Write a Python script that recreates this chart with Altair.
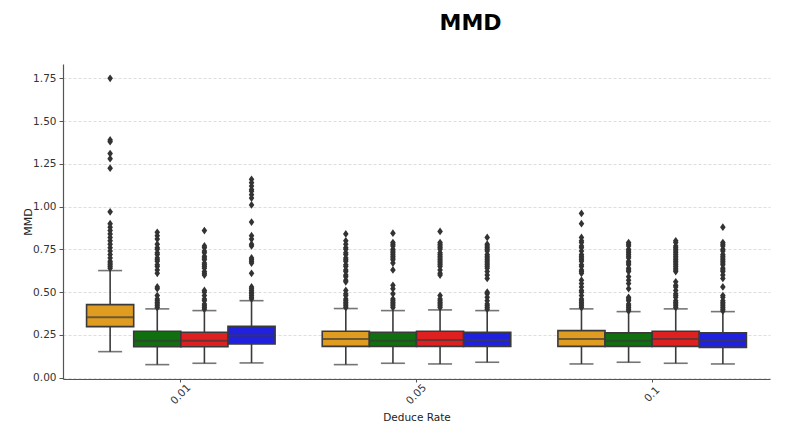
import altair as alt
import pandas as pd

rates = ["0.01", "0.05", "0.1"]
hues = ["A", "B", "C", "D"]
colors = ["#df9c20", "#107010", "#df2020", "#2020df"]

# box statistics, order: rate x hue
q1 = [0.298, 0.181, 0.181, 0.197,
      0.183, 0.183, 0.183, 0.183,
      0.183, 0.183, 0.183, 0.177]
med = [0.353, 0.216, 0.216, 0.246,
       0.226, 0.216, 0.220, 0.220,
       0.226, 0.216, 0.226, 0.216]
q3 = [0.427, 0.271, 0.265, 0.300,
      0.271, 0.265, 0.271, 0.265,
      0.275, 0.262, 0.271, 0.262]
lo = [0.152, 0.076, 0.084, 0.086,
      0.076, 0.084, 0.080, 0.090,
      0.080, 0.090, 0.084, 0.080]
hi = [0.626, 0.402, 0.392, 0.450,
      0.404, 0.392, 0.396, 0.392,
      0.402, 0.386, 0.402, 0.386]

outliers = [
    [1.75, 1.39, 1.38, 1.31, 1.28, 1.225, 0.97, 0.90, 0.88, 0.86, 0.84, 0.82, 0.80, 0.78, 0.76, 0.74, 0.72, 0.70, 0.68, 0.67, 0.66, 0.65, 0.64],
    [0.85, 0.83, 0.81, 0.78, 0.76, 0.75, 0.73, 0.72, 0.70, 0.69, 0.68, 0.66, 0.65, 0.63, 0.61, 0.53, 0.52, 0.48, 0.46, 0.45, 0.44, 0.43, 0.42, 0.41],
    [0.86, 0.77, 0.76, 0.74, 0.73, 0.71, 0.70, 0.69, 0.67, 0.66, 0.65, 0.64, 0.62, 0.61, 0.60, 0.51, 0.50, 0.48, 0.46, 0.45, 0.43, 0.42, 0.41, 0.40],
    [1.16, 1.14, 1.12, 1.10, 1.09, 1.07, 1.05, 1.01, 0.91, 0.83, 0.81, 0.78, 0.77, 0.70, 0.69, 0.68, 0.67, 0.61, 0.53, 0.52, 0.51, 0.50, 0.49, 0.48, 0.47, 0.46],
    [0.84, 0.80, 0.78, 0.76, 0.75, 0.73, 0.72, 0.70, 0.69, 0.68, 0.66, 0.65, 0.63, 0.62, 0.60, 0.59, 0.57, 0.56, 0.51, 0.49, 0.48, 0.46, 0.45, 0.44, 0.43, 0.42, 0.41],
    [0.845, 0.79, 0.78, 0.77, 0.75, 0.74, 0.73, 0.72, 0.71, 0.70, 0.69, 0.67, 0.63, 0.54, 0.52, 0.49, 0.46, 0.45, 0.44, 0.43, 0.42, 0.41],
    [0.855, 0.79, 0.78, 0.77, 0.76, 0.75, 0.73, 0.72, 0.71, 0.70, 0.69, 0.68, 0.67, 0.66, 0.65, 0.63, 0.61, 0.60, 0.48, 0.46, 0.45, 0.44, 0.43, 0.42, 0.41],
    [0.82, 0.78, 0.77, 0.76, 0.75, 0.74, 0.72, 0.71, 0.70, 0.69, 0.68, 0.67, 0.66, 0.65, 0.64, 0.62, 0.60, 0.58, 0.50, 0.49, 0.47, 0.45, 0.43, 0.42, 0.41, 0.40],
    [0.96, 0.90, 0.82, 0.80, 0.79, 0.77, 0.76, 0.74, 0.72, 0.71, 0.70, 0.69, 0.68, 0.66, 0.65, 0.63, 0.62, 0.61, 0.57, 0.55, 0.53, 0.51, 0.50, 0.48, 0.46, 0.45, 0.44, 0.43, 0.42, 0.41],
    [0.79, 0.78, 0.77, 0.75, 0.74, 0.73, 0.72, 0.71, 0.70, 0.68, 0.67, 0.66, 0.64, 0.63, 0.62, 0.59, 0.57, 0.55, 0.52, 0.47, 0.46, 0.45, 0.43, 0.42, 0.41, 0.40, 0.39],
    [0.80, 0.79, 0.77, 0.76, 0.75, 0.74, 0.73, 0.72, 0.71, 0.70, 0.69, 0.68, 0.67, 0.66, 0.65, 0.64, 0.63, 0.62, 0.56, 0.54, 0.53, 0.51, 0.49, 0.48, 0.47, 0.45, 0.44, 0.43, 0.42, 0.41],
    [0.88, 0.79, 0.78, 0.77, 0.75, 0.74, 0.72, 0.71, 0.70, 0.69, 0.68, 0.67, 0.66, 0.64, 0.63, 0.62, 0.60, 0.58, 0.53, 0.48, 0.47, 0.45, 0.44, 0.43, 0.42, 0.41, 0.40, 0.39],
]

rows, orows = [], []
i = 0
for r in rates:
    for h in hues:
        rows.append(dict(rate=r, hue=h, q1=q1[i], med=med[i], q3=q3[i], lo=lo[i], hi=hi[i]))
        for v in outliers[i]:
            orows.append(dict(rate=r, hue=h, value=v))
        i += 1
stats = pd.DataFrame(rows)
outs = pd.DataFrame(orows)

EDGE = "#3a3a3a"
FONT = "DejaVu Sans"

x = alt.X("rate:N", sort=rates, scale=alt.Scale(paddingInner=0, paddingOuter=0),
          axis=alt.Axis(title="Deduce Rate", labelAngle=-45, labelAlign="center",
                        labelBaseline="middle", labelPadding=12, tickSize=3,
                        tickColor="#555555", domainColor="#555555", domainWidth=1.2,
                        labelFontSize=10.5, titleFontSize=10.5, titleFontWeight="normal",
                        labelColor="#333333", titleColor="#222222",
                        titleY=41, titleBaseline="alphabetic", grid=False))
xo = alt.XOffset("hue:N", sort=hues, scale=alt.Scale(paddingInner=0, paddingOuter=0.5))
yscale = alt.Scale(domain=[-0.008, 1.834], nice=False, zero=False)
yaxis = alt.Axis(title="MMD", values=[0, 0.25, 0.5, 0.75, 1.0, 1.25, 1.5, 1.75], format=".2f",
                 grid=True, gridDash=[3, 2], gridColor="#d4d4d4", gridWidth=0.8,
                 tickSize=4, tickColor="#555555", domainColor="#555555", domainWidth=1.2,
                 labelFontSize=10.5, titleFontSize=11, titleFontWeight="normal",
                 labelColor="#333333", titleColor="#222222",
                 titleX=-35, titleBaseline="middle", labelPadding=3)

base = alt.Chart(stats)

whisk = base.mark_rule(color=EDGE, strokeWidth=1.6).encode(
    x=x, xOffset=xo, y=alt.Y("lo:Q", scale=yscale, axis=yaxis), y2="hi:Q")
cap_lo = base.mark_tick(color=EDGE, size=24, thickness=1.6).encode(
    x=x, xOffset=xo, y=alt.Y("lo:Q", scale=yscale))
cap_hi = base.mark_tick(color=EDGE, size=24, thickness=1.6).encode(
    x=x, xOffset=xo, y=alt.Y("hi:Q", scale=yscale))
box = base.mark_bar(stroke=EDGE, strokeWidth=1.6, opacity=1).encode(
    x=x, xOffset=xo, y=alt.Y("q1:Q", scale=yscale), y2="q3:Q",
    color=alt.Color("hue:N", sort=hues, scale=alt.Scale(domain=hues, range=colors), legend=None))
median = base.mark_tick(color=EDGE, size=46, thickness=2).encode(
    x=x, xOffset=xo, y=alt.Y("med:Q", scale=yscale))
pts = alt.Chart(outs).mark_point(shape="M0,-1L0.72,0L0,1L-0.72,0Z", filled=True, size=60,
                                 color="#333333", opacity=1).encode(
    x=x, xOffset=xo, y=alt.Y("value:Q", scale=yscale))

chart = alt.layer(whisk, cap_lo, cap_hi, box, median, pts).properties(
    width=707, height=315,
    autosize=alt.AutoSizeParams(type="none"),
    padding={"left": 55, "top": 56, "right": 16, "bottom": 56},
    view=alt.ViewBackground(strokeOpacity=0, strokeWidth=0),
    title=alt.TitleParams("MMD", fontSize=22, fontWeight="bold", font=FONT, anchor="middle",
                          dx=54, offset=29, color="#000000"),
).configure_view(strokeOpacity=0, strokeWidth=0).configure(font=FONT)

chart.save("out.html", embed_options={"renderer": "svg", "actions": False})
